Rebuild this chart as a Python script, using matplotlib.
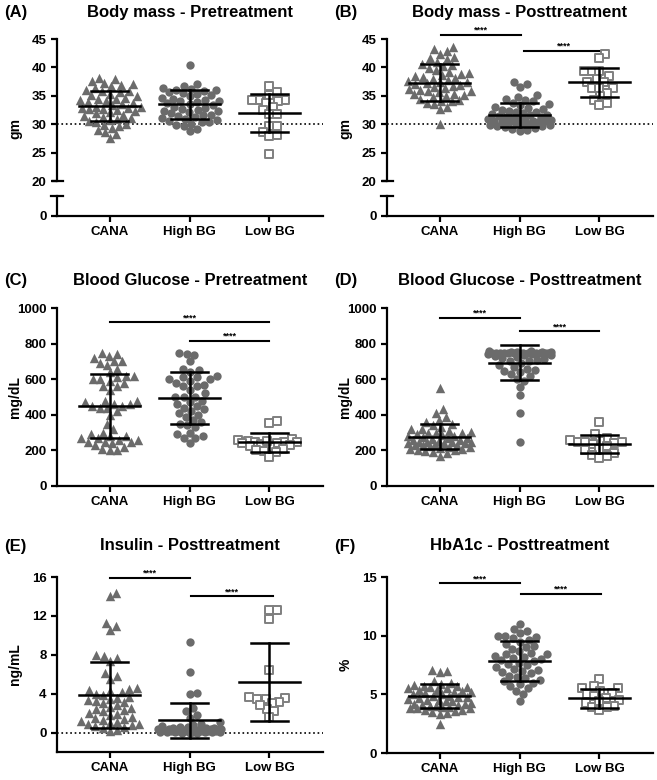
import numpy as np
import matplotlib
matplotlib.use('Agg')
import matplotlib.pyplot as plt
import matplotlib.transforms as mtransforms

plt.rcParams['font.family'] = ['Liberation Sans', 'DejaVu Sans']
plt.rcParams['font.weight'] = 'bold'

groups = ['CANA', 'High BG', 'Low BG']

# (A) body mass pretreatment, gm
a_cana = [38.2, 37.9, 37.6, 37.3, 37.0, 36.7, 36.4, 36.1, 35.9, 35.6, 35.4, 35.1, 34.9, 34.7,
          34.5, 34.3, 34.1, 33.9, 33.7, 33.5, 33.3, 33.1, 32.9, 32.8, 32.7, 32.6, 32.5, 32.3,
          32.1, 31.9, 31.7, 31.5, 31.3, 31.1, 30.9, 30.7, 30.5, 30.3, 30.1, 29.9, 29.6, 29.3,
          29.0, 28.6, 28.2, 27.5, 33.0, 34.4, 35.8, 36.9]
a_high = [40.5, 37.1, 36.8, 36.4, 36.2, 36.0, 35.8, 35.6, 35.3, 35.1, 34.9, 34.7, 34.5, 34.3,
          34.1, 33.9, 33.7, 33.5, 33.3, 33.1, 32.9, 32.7, 32.5, 32.3, 32.1, 31.9, 31.7, 31.5,
          31.3, 31.1, 30.9, 30.7, 30.5, 30.3, 30.1, 29.9, 29.6, 29.2, 28.8, 36.1, 35.5, 34.0,
          32.4, 31.6, 30.4]
a_low = [36.8, 35.6, 35.2, 34.3, 34.3, 34.3, 34.0, 33.7, 33.0, 32.5, 31.8, 31.8, 29.6, 29.6,
         28.6, 28.1, 27.9, 24.8]
a_mean = [33.2, 33.5, 31.9]
a_sd = [2.6, 2.5, 3.35]

# (B) body mass posttreatment, gm
b_cana = [43.6, 43.2, 42.8, 42.3, 41.8, 41.4, 41.0, 40.6, 40.2, 39.9, 39.6, 39.2, 38.9, 38.7,
          38.5, 38.3, 38.0, 37.8, 37.6, 37.4, 37.2, 37.0, 36.8, 36.6, 36.4, 36.2, 36.0, 35.8,
          35.6, 35.4, 35.2, 35.0, 34.8, 34.5, 34.2, 34.0, 33.8, 33.5, 33.0, 32.6, 30.0, 39.0,
          38.1, 36.9, 35.9, 35.3, 40.4, 41.6, 34.1, 37.5]
b_high = [37.5, 37.0, 36.6, 35.1, 34.8, 34.5, 34.2, 34.0, 33.8, 33.5, 33.3, 33.1, 32.9, 32.7,
          32.5, 32.3, 32.1, 31.9, 31.8, 31.6, 31.5, 31.3, 31.2, 31.0, 30.9, 30.8, 30.6, 30.5,
          30.4, 30.3, 30.2, 30.1, 30.0, 29.9, 29.8, 29.7, 29.6, 29.4, 29.2, 29.0, 28.8, 30.6,
          31.1, 30.3, 31.7, 32.2, 29.5, 30.8]
b_low = [42.4, 41.6, 39.3, 39.3, 39.3, 38.4, 38.0, 37.5, 37.5, 36.4, 36.4, 36.4, 35.5, 35.0,
         34.3, 33.7, 33.4]
b_mean = [37.3, 31.6, 37.4]
b_sd = [3.3, 2.05, 2.55]

# (C) blood glucose pretreatment, mg/dL
c_cana = [750, 740, 720, 700, 690, 680, 660, 640, 620, 610, 600, 600, 590, 580, 560, 540, 480,
          480, 470, 460, 450, 450, 440, 440, 420, 400, 350, 320, 300, 290, 280, 280, 270, 260,
          260, 250, 250, 245, 240, 230, 220, 210, 200, 200, 560, 620, 700, 730, 460, 270]
c_high = [750, 740, 735, 700, 660, 650, 640, 620, 610, 610, 600, 590, 580, 570, 560, 560, 540,
          520, 500, 500, 480, 470, 460, 450, 440, 420, 410, 400, 390, 370, 360, 350, 340, 330,
          300, 290, 280, 270, 270, 240, 600, 500, 430]
c_low = [365, 355, 265, 260, 255, 250, 248, 245, 240, 240, 235, 230, 225, 220, 210, 200, 195,
         190, 165, 255]
c_mean = [448, 495, 245]
c_sd = [179, 145, 52]

# (D) blood glucose posttreatment, mg/dL
d_cana = [550, 430, 410, 390, 370, 350, 340, 330, 320, 310, 305, 300, 295, 290, 285, 280, 275,
          270, 265, 260, 255, 250, 250, 245, 240, 240, 235, 230, 230, 225, 220, 220, 215, 210,
          205, 200, 195, 190, 185, 170, 260, 280, 300, 320, 240, 230, 250, 270, 360, 210]
d_high = [760, 760, 755, 755, 755, 750, 750, 750, 750, 750, 750, 750, 750, 745, 745, 745, 740,
          740, 735, 730, 725, 720, 715, 710, 705, 700, 690, 680, 670, 660, 650, 645, 640, 630,
          620, 600, 590, 555, 510, 410, 250, 750, 748, 752, 738]
d_low = [360, 290, 270, 260, 255, 250, 250, 245, 240, 235, 225, 210, 200, 185, 175, 170, 160]
d_mean = [278, 693, 235]
d_sd = [72, 100, 50]

# (E) insulin posttreatment, ng/mL
e_cana = [14.4, 14.0, 11.3, 11.0, 10.6, 8.0, 7.9, 7.7, 6.1, 5.5, 4.6, 4.4, 4.3, 4.2, 4.0, 3.9,
          3.7, 3.5, 3.3, 3.2, 3.0, 2.8, 2.6, 2.4, 2.3, 2.2, 2.0, 1.9, 1.8, 1.6, 1.5, 1.4, 1.2,
          1.1, 1.0, 0.9, 0.8, 0.7, 0.6, 0.5, 0.3, 0.2, 2.5, 3.6, 4.5, 1.3, 0.9, 7.4, 5.8, 3.1]
e_high = [9.3, 6.2, 4.1, 4.0, 2.5, 2.2, 1.8, 1.5, 1.1, 0.9, 0.8, 0.6, 0.5, 0.5, 0.4, 0.4, 0.4,
          0.3, 0.3, 0.3, 0.3, 0.3, 0.2, 0.2, 0.2, 0.2, 0.2, 0.1, 0.1, 0.1, 0.1, 0.1, 0.05, 0.05,
          0.0, 0.0, 0.0, 0.5, 0.4, 0.3, 0.2, 0.6, 0.7, 0.35, 0.25]
e_low = [12.6, 12.6, 11.7, 6.4, 3.5, 3.6, 3.1, 3.0, 3.7, 3.5, 2.4, 2.2, 2.8, 1.6]
e_mean = [3.9, 1.25, 5.2]
e_sd = [3.4, 1.83, 4.0]

# (F) HbA1c posttreatment, %
f_cana = [7.1, 7.0, 6.9, 6.1, 6.0, 5.9, 5.8, 5.7, 5.6, 5.5, 5.5, 5.4, 5.4, 5.3, 5.2, 5.1, 5.0,
          5.0, 4.9, 4.8, 4.8, 4.7, 4.6, 4.5, 4.5, 4.4, 4.3, 4.2, 4.2, 4.1, 4.0, 4.0, 3.9, 3.9,
          3.8, 3.8, 3.7, 3.7, 3.6, 3.5, 3.4, 3.3, 2.5, 5.6, 4.9, 4.4, 5.2, 4.1, 3.8, 5.7]
f_high = [11.0, 10.6, 10.4, 10.2, 10.0, 9.9, 9.8, 9.6, 9.5, 9.3, 9.1, 8.9, 8.7, 8.5, 8.4, 8.3,
          8.2, 8.1, 8.0, 7.9, 7.8, 7.7, 7.6, 7.5, 7.3, 7.1, 7.0, 6.9, 6.8, 6.6, 6.4, 6.2, 6.1,
          6.0, 5.9, 5.7, 5.5, 5.3, 5.0, 4.4, 8.4, 7.2, 6.5, 9.0, 10.0]
f_low = [6.3, 5.7, 5.5, 5.5, 5.3, 5.1, 5.0, 4.9, 4.7, 4.5, 4.3, 4.0, 3.9, 3.9, 3.7, 4.4]
f_mean = [4.85, 7.85, 4.65]
f_sd = [1.05, 1.7, 0.82]

W, H = 657, 780
fig = plt.figure(figsize=(W / 100, H / 100), dpi=100)
XLIM = (-0.66, 2.67)
GRAY = '#6b6b6b'
SQ = '#7f7f7f'


def add_ax(left, top, right, bottom):
    return fig.add_axes([left / W, 1 - bottom / H, (right - left) / W, (bottom - top) / H])


def style(ax):
    for s in ['top', 'right']:
        ax.spines[s].set_visible(False)
    for s in ['left', 'bottom']:
        ax.spines[s].set_linewidth(1.6)
    ax.tick_params(axis='both', direction='out', length=4, width=1.6, labelsize=9.5)
    ax.set_xlim(*XLIM)


def swarm(vals, ax, d=7.5, lim=0.4):
    # beeswarm in pixel space, width capped (points overlap when the row is full)
    bb = ax.get_position()
    sx = bb.width * W / (XLIM[1] - XLIM[0])
    y0, y1 = ax.get_ylim()
    sy = bb.height * H / (y1 - y0)
    L = lim * sx
    cands = np.arange(0, L + 0.01, 0.5)
    cands = np.concatenate([[0.0], np.ravel(np.column_stack([cands[1:], -cands[1:]]))])
    v = np.asarray(vals, float)
    placed_x, placed_y = [], []
    offs = np.zeros(len(v))
    for i in np.argsort(v):
        yp = v[i] * sy
        if placed_x:
            px = np.array(placed_x)
            py = np.array(placed_y)
            dist = np.min(np.hypot(cands[:, None] - px[None, :], yp - py[None, :]), axis=1)
            ok = np.nonzero(dist >= d)[0]
            x = cands[ok[0]] if len(ok) else cands[np.argmax(dist)]
        else:
            x = 0.0
        placed_x.append(x)
        placed_y.append(yp)
        offs[i] = x / sx
    return offs


def draw_groups(ax, cana, high, low, mean, sd):
    for g, vals in enumerate([cana, high, low]):
        off = swarm(vals, ax)
        if g == 0:
            ax.scatter(g + off, vals, marker='^', s=46, color=GRAY, linewidths=0, zorder=3, clip_on=False)
        elif g == 1:
            ax.scatter(g + off, vals, marker='o', s=36, color=GRAY, linewidths=0, zorder=3, clip_on=False)
        else:
            ax.scatter(g + off, vals, marker='s', s=27, facecolor='white', edgecolor=SQ,
                       linewidths=1.4, zorder=3, clip_on=False)
    for g in range(3):
        m, s = mean[g], sd[g]
        ax.plot([g - 0.38, g + 0.38], [m, m], color='black', lw=1.8, zorder=5)
        ax.plot([g, g], [m - s, m + s], color='black', lw=1.8, zorder=5)
        for yy in (m - s, m + s):
            ax.plot([g - 0.23, g + 0.23], [yy, yy], color='black', lw=1.8, zorder=5)


def sig(ax, x1, x2, y):
    ax.plot([x1, x2], [y, y], color='black', lw=1.5, clip_on=False)
    ax.text((x1 + x2) / 2, y, '****', ha='center', va='bottom', fontsize=6.5)


def xcats(ax):
    ax.set_xticks(range(3))
    ax.set_xticklabels(groups, fontsize=9.5, fontweight='bold')


def headers(x_lab, x_ax, y, label, title):
    fig.text(x_lab / W, 1 - y / H, label, fontsize=12, fontweight='bold', ha='left', va='center')
    fig.text((x_ax + 133) / W, 1 - y / H, title, fontsize=12, fontweight='bold', ha='center', va='center')


def ylab(ax, text, frac=0.5):
    ax.set_ylabel(text, fontsize=10, fontweight='bold')
    ax.yaxis.set_label_coords(-0.13, frac)


cols = [57, 387]

# row 1: broken axes
for c, (cana, high, low, mean, sd, lab, title) in enumerate([
        (a_cana, a_high, a_low, a_mean, a_sd, '(A)', 'Body mass - Pretreatment'),
        (b_cana, b_high, b_low, b_mean, b_sd, '(B)', 'Body mass - Posttreatment')]):
    x0 = cols[c]
    top = add_ax(x0, 39, x0 + 266, 181)
    low_ax = add_ax(x0, 196, x0 + 266, 216)
    style(top)
    style(low_ax)
    top.spines['bottom'].set_visible(False)
    top.set_ylim(20, 45)
    top.set_yticks(range(20, 46, 5))
    top.set_xticks([])
    low_ax.set_ylim(0, 3.5)
    low_ax.set_yticks([0])
    xcats(low_ax)
    trans = mtransforms.blended_transform_factory(low_ax.transAxes, low_ax.transData)
    low_ax.plot([-0.022, 0.022], [3.5, 3.5], color='black', lw=1.6, transform=trans, clip_on=False)
    trans = mtransforms.blended_transform_factory(top.transAxes, top.transData)
    top.plot([-0.015, 0.022], [20, 20], color='black', lw=1.6, transform=trans, clip_on=False)
    top.axhline(30, color='black', ls=':', lw=1.2, zorder=1)
    draw_groups(top, cana, high, low, mean, sd)
    ylab(top, 'gm', 0.37)
    headers(x0 - 53, x0, 13, lab, title)
    if c == 1:
        sig(top, 0.02, 1.02, 45.7)
        sig(top, 1.05, 2.05, 42.9)

# row 2: blood glucose
for c, (cana, high, low, mean, sd, lab, title) in enumerate([
        (c_cana, c_high, c_low, c_mean, c_sd, '(C)', 'Blood Glucose - Pretreatment'),
        (d_cana, d_high, d_low, d_mean, d_sd, '(D)', 'Blood Glucose - Posttreatment')]):
    x0 = cols[c]
    ax = add_ax(x0, 308, x0 + 266, 486)
    style(ax)
    ax.set_ylim(0, 1000)
    ax.set_yticks(range(0, 1001, 200))
    xcats(ax)
    draw_groups(ax, cana, high, low, mean, sd)
    ylab(ax, 'mg/dL')
    headers(x0 - 53, x0, 280, lab, title)
    if c == 0:
        sig(ax, 0, 2, 921)
        sig(ax, 1, 2, 816)
    else:
        sig(ax, 0, 1, 945)
        sig(ax, 1, 2, 869)

# row 3: insulin and HbA1c
ax = add_ax(cols[0], 577, cols[0] + 266, 752)
style(ax)
ax.set_ylim(-2, 16)
ax.set_yticks(range(0, 17, 4))
xcats(ax)
ax.axhline(0, color='black', ls=':', lw=1.2, zorder=1)
draw_groups(ax, e_cana, e_high, e_low, e_mean, e_sd)
ylab(ax, 'ng/mL')
headers(cols[0] - 53, cols[0], 546, '(E)', 'Insulin - Posttreatment')
sig(ax, 0, 1, 15.9)
sig(ax, 1.02, 2.04, 14.0)

ax = add_ax(cols[1], 577, cols[1] + 266, 753)
style(ax)
ax.set_ylim(0, 15)
ax.set_yticks(range(0, 16, 5))
xcats(ax)
draw_groups(ax, f_cana, f_high, f_low, f_mean, f_sd)
ylab(ax, '%')
headers(cols[1] - 53, cols[1], 546, '(F)', 'HbA1c - Posttreatment')
sig(ax, 0, 1, 14.46)
sig(ax, 1.02, 2.02, 13.55)

fig.savefig('out.png', dpi=100)
